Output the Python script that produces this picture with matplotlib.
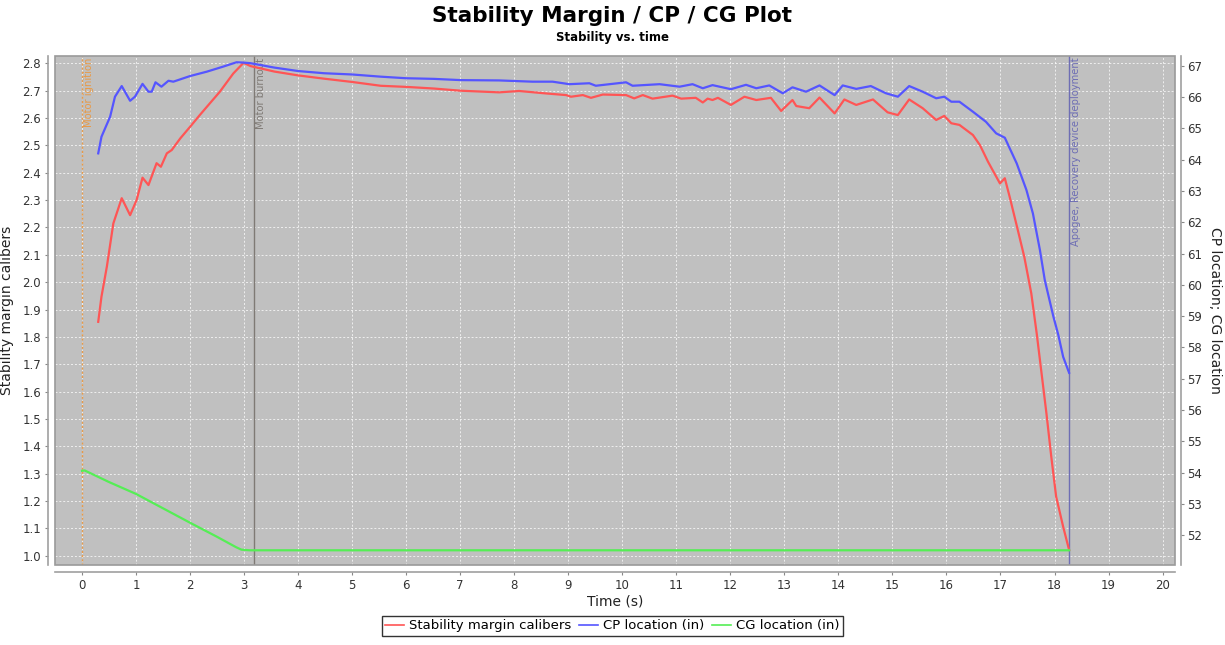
import matplotlib
matplotlib.use("Agg")
import matplotlib.pyplot as plt
from matplotlib.patches import Rectangle
import matplotlib.transforms as mtransforms

# ── Data ─────────────────────────────────────────────────────

time_sm = [0.30, 0.36, 0.46, 0.58, 0.735, 0.89, 1.01, 1.12, 1.23, 1.38, 1.46, 1.57,
           1.66, 1.82, 2.00, 2.18, 2.31, 2.55, 2.80, 2.99, 3.12, 3.56, 4.00, 4.48,
           5.00, 5.53, 6.00, 6.51, 7.01, 7.72, 8.09, 8.59, 8.96, 9.05, 9.27, 9.42,
           9.64, 10.07, 10.22, 10.38, 10.56, 10.93, 11.09, 11.36, 11.49, 11.58, 11.67,
           11.77, 12.01, 12.26, 12.48, 12.75, 12.94, 13.15, 13.22, 13.46, 13.65, 13.93,
           14.11, 14.33, 14.64, 14.91, 15.10, 15.31, 15.56, 15.81, 15.96, 16.09, 16.24,
           16.49, 16.62, 16.77, 16.99, 17.08, 17.17, 17.32, 17.44, 17.57, 17.67, 17.76,
           17.85, 17.94, 18.03, 18.16, 18.27]
stability = [1.855, 1.947, 2.057, 2.215, 2.307, 2.245, 2.300, 2.382, 2.355, 2.435, 2.422, 2.471,
             2.483, 2.526, 2.568, 2.611, 2.641, 2.696, 2.763, 2.802, 2.790, 2.770, 2.756, 2.744,
             2.732, 2.718, 2.714, 2.708, 2.700, 2.694, 2.699, 2.690, 2.684, 2.678, 2.684, 2.674,
             2.686, 2.684, 2.672, 2.684, 2.671, 2.682, 2.671, 2.674, 2.657, 2.671, 2.666,
             2.674, 2.648, 2.678, 2.666, 2.674, 2.626, 2.666, 2.644, 2.636, 2.675, 2.617,
             2.668, 2.648, 2.668, 2.621, 2.611, 2.668, 2.636, 2.593, 2.608, 2.581, 2.575,
             2.538, 2.501, 2.440, 2.361, 2.380, 2.312, 2.191, 2.093, 1.959, 1.813, 1.667,
             1.521, 1.362, 1.216, 1.106, 1.021]

time_cp = [0.30, 0.36, 0.52, 0.61, 0.735, 0.89, 0.98, 1.12, 1.23, 1.29, 1.36, 1.47, 1.60,
           1.69, 2.00, 2.31, 2.61, 2.86, 2.99, 3.12, 3.56, 4.00, 4.48, 5.00, 5.53, 6.00,
           6.51, 7.01, 7.72, 8.34, 8.71, 9.02, 9.39, 9.51, 10.07, 10.19, 10.69, 11.06,
           11.30, 11.49, 11.67, 12.01, 12.29, 12.48, 12.72, 12.97, 13.15, 13.40, 13.65,
           13.93, 14.08, 14.33, 14.60, 14.88, 15.10, 15.31, 15.56, 15.81, 15.96, 16.09,
           16.24, 16.49, 16.73, 16.92, 17.08, 17.30, 17.48, 17.60, 17.73, 17.82, 17.98,
           18.07, 18.16, 18.27]
cp_location = [64.20, 64.73, 65.37, 66.01, 66.35, 65.88, 66.01, 66.42, 66.17, 66.17, 66.47, 66.33, 66.52,
               66.49, 66.67, 66.81, 66.97, 67.11, 67.10, 67.08, 66.94, 66.83, 66.76, 66.72, 66.65, 66.60,
               66.58, 66.54, 66.53, 66.49, 66.49, 66.41, 66.44, 66.36, 66.47, 66.36, 66.41, 66.33,
               66.41, 66.28, 66.38, 66.25, 66.39, 66.28, 66.37, 66.12, 66.31, 66.17, 66.37,
               66.06, 66.37, 66.26, 66.35, 66.12, 66.01, 66.35, 66.17, 65.96, 66.01, 65.85,
               65.85, 65.53, 65.21, 64.84, 64.70, 63.88, 63.03, 62.28, 61.11, 60.15, 58.98,
               58.40, 57.70, 57.19]

time_cg = [0.00, 0.05, 0.50, 1.00, 1.50, 2.00, 2.50, 2.85, 2.95, 3.10, 18.27]
cg_location = [54.06, 54.07, 53.70, 53.32, 52.86, 52.40, 51.95, 51.62, 51.54, 51.52, 51.52]

event_times = [0.0, 3.18, 18.27]
event_labels = ["Motor ignition", "Motor burnout", "Apogee, Recovery device deployment"]
event_colors = ["#e89a48", "#7f7a75", "#6e6eb4"]

x_ticks = list(range(0, 21))
left_ticks = [1.0 + 0.1 * i for i in range(19)]
right_ticks = list(range(52, 68))

# ── Figure ───────────────────────────────────────────────────

plt.rcParams["font.family"] = "DejaVu Sans"

fig = plt.figure(figsize=(12.25, 6.45), dpi=100)
ax = fig.add_axes([55 / 1225, 1 - 565 / 645, 1120 / 1225, (565 - 55.7) / 645])
ax2 = ax.twinx()

ax.set_facecolor("#c0c0c0")
ax.set_xlim(-0.5, 20.23)
ax.set_ylim(0.966, 2.828)
ax2.set_ylim(51.05, 67.32)

ax.set_xticks(x_ticks)
ax.set_yticks(left_ticks)
ax.set_yticklabels([f"{v:.1f}" for v in left_ticks])
ax2.set_yticks(right_ticks)

ax.grid(True, color="white", linestyle=(0, (2, 2)), linewidth=0.7, alpha=0.75)
ax.set_axisbelow(True)

# event markers
trans = mtransforms.blended_transform_factory(ax.transData, ax.transAxes)
for t, lab, col in zip(event_times, event_labels, event_colors):
    ls = (0, (1.5, 1.5)) if t == 0 else "-"
    ax.axvline(t, color=col, linewidth=1.0, linestyle=ls, zorder=2)
    ax.text(t + 0.04, 0.996, lab, rotation=90, va="top", ha="left",
            fontsize=7.2, color=col, transform=trans, zorder=3)

l1, = ax.plot(time_sm, stability, color="#ff5555", linewidth=1.6, zorder=4,
              label="Stability margin calibers")
l2, = ax2.plot(time_cp, cp_location, color="#5555ff", linewidth=1.6, zorder=4,
               label="CP location (in)")
l3, = ax2.plot(time_cg, cg_location, color="#55ee55", linewidth=1.6, zorder=4,
               label="CG location (in)")

# JFreeChart-style offset axes and plot outline
for a in (ax, ax2):
    for s in a.spines.values():
        s.set_visible(False)
ax.spines["left"].set_visible(True)
ax.spines["bottom"].set_visible(True)
ax2.spines["right"].set_visible(True)
ax.spines["left"].set_position(("outward", 5))
ax.spines["bottom"].set_position(("outward", 5))
ax2.spines["right"].set_position(("outward", 4))
for s in (ax.spines["left"], ax.spines["bottom"], ax2.spines["right"]):
    s.set_color("#a0a0a0")
    s.set_linewidth(1.2)
ax.add_patch(Rectangle((0, 0), 1, 1, transform=ax.transAxes, fill=False,
                       edgecolor="#9a9a9a", linewidth=1.2, clip_on=False, zorder=5))

ax.tick_params(axis="both", direction="out", length=2, color="#888888",
               labelsize=8.5, labelcolor="#333333", pad=3)
ax2.tick_params(axis="y", direction="out", length=2, color="#888888",
                labelsize=8.5, labelcolor="#333333", pad=3)

ax.set_xlabel("Time (s)", fontsize=10, color="#222222", labelpad=2)
ax.set_ylabel("Stability margin calibers", fontsize=10, color="#222222", labelpad=6)
ax2.set_ylabel("CP location; CG location", fontsize=10, color="#222222",
               rotation=270, labelpad=14)

fig.text(0.5, 1 - 16 / 645, "Stability Margin / CP / CG Plot", ha="center", va="center",
         fontsize=15.5, fontweight="bold")
fig.text(0.5, 1 - 38 / 645, "Stability vs. time", ha="center", va="center",
         fontsize=8.5, fontweight="bold")

leg = fig.legend(handles=[l1, l2, l3], loc="center", bbox_to_anchor=(0.5, 1 - 626 / 645),
                 ncol=3, fontsize=9.5, frameon=True, fancybox=False, edgecolor="black",
                 handlelength=1.4, handletextpad=0.4, columnspacing=0.6, borderpad=0.25)
leg.get_frame().set_linewidth(1.0)
for h in leg.get_lines():
    h.set_linewidth(1.2)

fig.savefig("out.png", dpi=100)
